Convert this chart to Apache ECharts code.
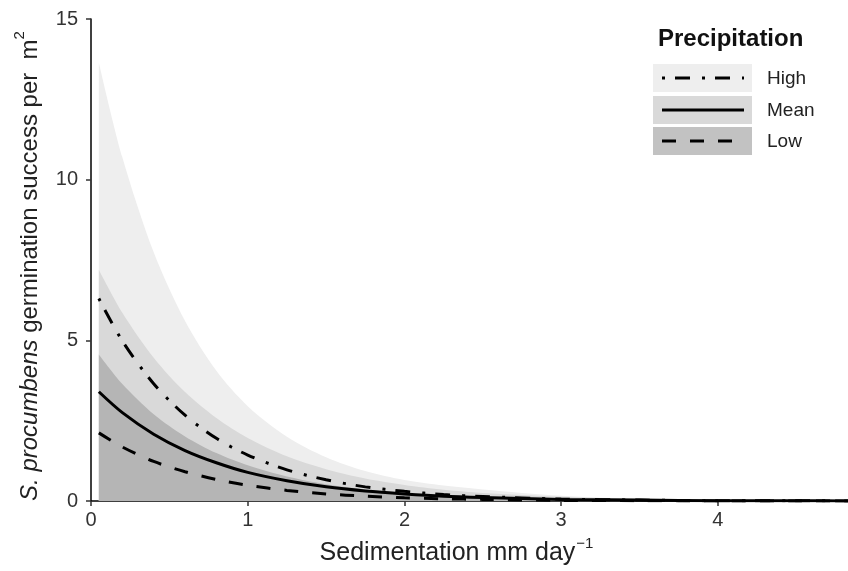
<!DOCTYPE html>
<html>
<head>
<meta charset="utf-8">
<script src="https://cdn.jsdelivr.net/npm/echarts@6/dist/echarts.min.js"></script>
<style>html,body{margin:0;padding:0;background:#fff}#c{width:848px;height:571px}</style>
</head>
<body>
<div id="c"></div>
<script>
// Sedimentation (mm/day) sample positions
var sediment = [0.05, 0.2, 0.4, 0.6, 0.8, 1.0, 1.25, 1.5, 1.75, 2.0, 2.25, 2.5, 3.0, 3.5, 4.0, 4.5, 4.83];
// fitted germination success per m2
var highMean = [6.30, 4.98, 3.65, 2.67, 1.95, 1.43, 0.97, 0.66, 0.44, 0.30, 0.20, 0.14, 0.06, 0.03, 0.01, 0.01, 0.00];
var meanMean = [3.40, 2.75, 2.08, 1.57, 1.19, 0.89, 0.63, 0.44, 0.31, 0.22, 0.15, 0.11, 0.05, 0.03, 0.01, 0.01, 0.00];
var lowMean  = [2.12, 1.68, 1.23, 0.91, 0.67, 0.49, 0.33, 0.22, 0.15, 0.10, 0.07, 0.05, 0.02, 0.01, 0.00, 0.00, 0.00];
// upper confidence bounds of the ribbons
var highUpper = [13.65, 10.70, 7.74, 5.60, 4.05, 2.95, 2.00, 1.36, 0.93, 0.65, 0.48, 0.36, 0.16, 0.06, 0.02, 0.01, 0.01];
var meanUpper = [7.20, 5.86, 4.46, 3.39, 2.58, 1.96, 1.39, 0.99, 0.70, 0.50, 0.35, 0.25, 0.13, 0.06, 0.03, 0.02, 0.01];
var lowUpper  = [4.56, 3.64, 2.70, 2.01, 1.49, 1.11, 0.76, 0.52, 0.36, 0.25, 0.17, 0.12, 0.06, 0.03, 0.01, 0.01, 0.00];
var legendNames = ['High', 'Mean', 'Low'];

function pairs(ys) { return sediment.map(function (x, i) { return [x, ys[i]]; }); }

var C_LIGHT = '#eeeeee', C_MED = '#d9d9d9', C_DARK = '#b5b5b5';
var FONT = 'Liberation Sans, Arial, sans-serif';

function ribbon(name, ys, color, z) {
  return { name: name, type: 'line', data: pairs(ys), smooth: 0.3, showSymbol: false, silent: true,
    lineStyle: { width: 0 }, areaStyle: { color: color, opacity: 1 }, z: z };
}
function curve(name, ys, type, z) {
  return { name: name, type: 'line', data: pairs(ys), smooth: 0.3, showSymbol: false, silent: true,
    lineStyle: { color: '#000', width: 3, type: type, cap: 'butt' }, z: z };
}

var chart = echarts.init(document.getElementById('c'), null, { renderer: 'canvas' });

var legendTop = [64, 96, 127];
var legendFill = [C_LIGHT, C_MED, '#c2c2c2'];
var legendDash = [[3, 10, 15, 12], 'solid', [14, 14]];
var graphics = [{ type: 'text', left: 658, top: 27, style: { text: 'Precipitation', font: 'bold 24px ' + FONT, fill: '#111' } }];
legendNames.forEach(function (n, i) {
  graphics.push({ type: 'rect', shape: { x: 653, y: legendTop[i], width: 99, height: 28 }, style: { fill: legendFill[i] } });
  graphics.push({ type: 'line', shape: { x1: 662, y1: legendTop[i] + 14, x2: 744, y2: legendTop[i] + 14 },
    style: { stroke: '#000', lineWidth: 3, lineDash: legendDash[i] === 'solid' ? null : legendDash[i] } });
  graphics.push({ type: 'text', left: 767, top: legendTop[i] + 5, style: { text: n, font: '19px ' + FONT, fill: '#222' } });
});

chart.setOption({
  animation: false,
  backgroundColor: '#fff',
  grid: { left: 91, right: 0, top: 19, bottom: 70, containLabel: false },
  xAxis: {
    type: 'value', min: 0, max: 4.83, interval: 1,
    name: '{n|Sedimentation mm day}{s|−1}',
    nameLocation: 'middle', nameGap: 35,
    nameTextStyle: { rich: {
      n: { fontFamily: FONT, fontSize: 25, color: '#222', lineHeight: 30, verticalAlign: 'bottom' },
      s: { fontFamily: FONT, fontSize: 15, color: '#222', lineHeight: 30, verticalAlign: 'top', padding: [0, 26, 0, 1] } } },
    axisLine: { show: true, onZero: false, lineStyle: { color: '#000', width: 1.5 } },
    axisTick: { show: true, length: 5, lineStyle: { color: '#333', width: 1.5 } },
    axisLabel: { fontFamily: FONT, fontSize: 20, color: '#333', margin: 9, showMaxLabel: false },
    splitLine: { show: false }
  },
  yAxis: {
    type: 'value', min: 0, max: 15, interval: 5,
    name: '{i|S. procumbens}{n| germination success per  m}{s|2}',
    nameLocation: 'middle', nameRotate: 90, nameGap: 49,
    nameTextStyle: { rich: {
      i: { fontFamily: FONT, fontSize: 24, fontStyle: 'italic', color: '#222', lineHeight: 30, verticalAlign: 'bottom' },
      n: { fontFamily: FONT, fontSize: 24, color: '#222', lineHeight: 30, verticalAlign: 'bottom' },
      s: { fontFamily: FONT, fontSize: 15, color: '#222', lineHeight: 30, verticalAlign: 'top', padding: [0, 12, 0, 0] } } },
    axisLine: { show: true, onZero: false, lineStyle: { color: '#000', width: 1.5 } },
    axisTick: { show: true, length: 5, lineStyle: { color: '#333', width: 1.5 } },
    axisLabel: { fontFamily: FONT, fontSize: 20, color: '#333', margin: 13 },
    splitLine: { show: false }
  },
  series: [
    ribbon('High band', highUpper, C_LIGHT, 1),
    ribbon('Mean band', meanUpper, C_MED, 2),
    ribbon('Low band', lowUpper, C_DARK, 3),
    curve('High', highMean, [3, 10, 15, 12], 5),
    curve('Mean', meanMean, 'solid', 5),
    curve('Low', lowMean, [14, 14], 5)
  ],
  graphic: graphics
});
</script>
</body>
</html>
